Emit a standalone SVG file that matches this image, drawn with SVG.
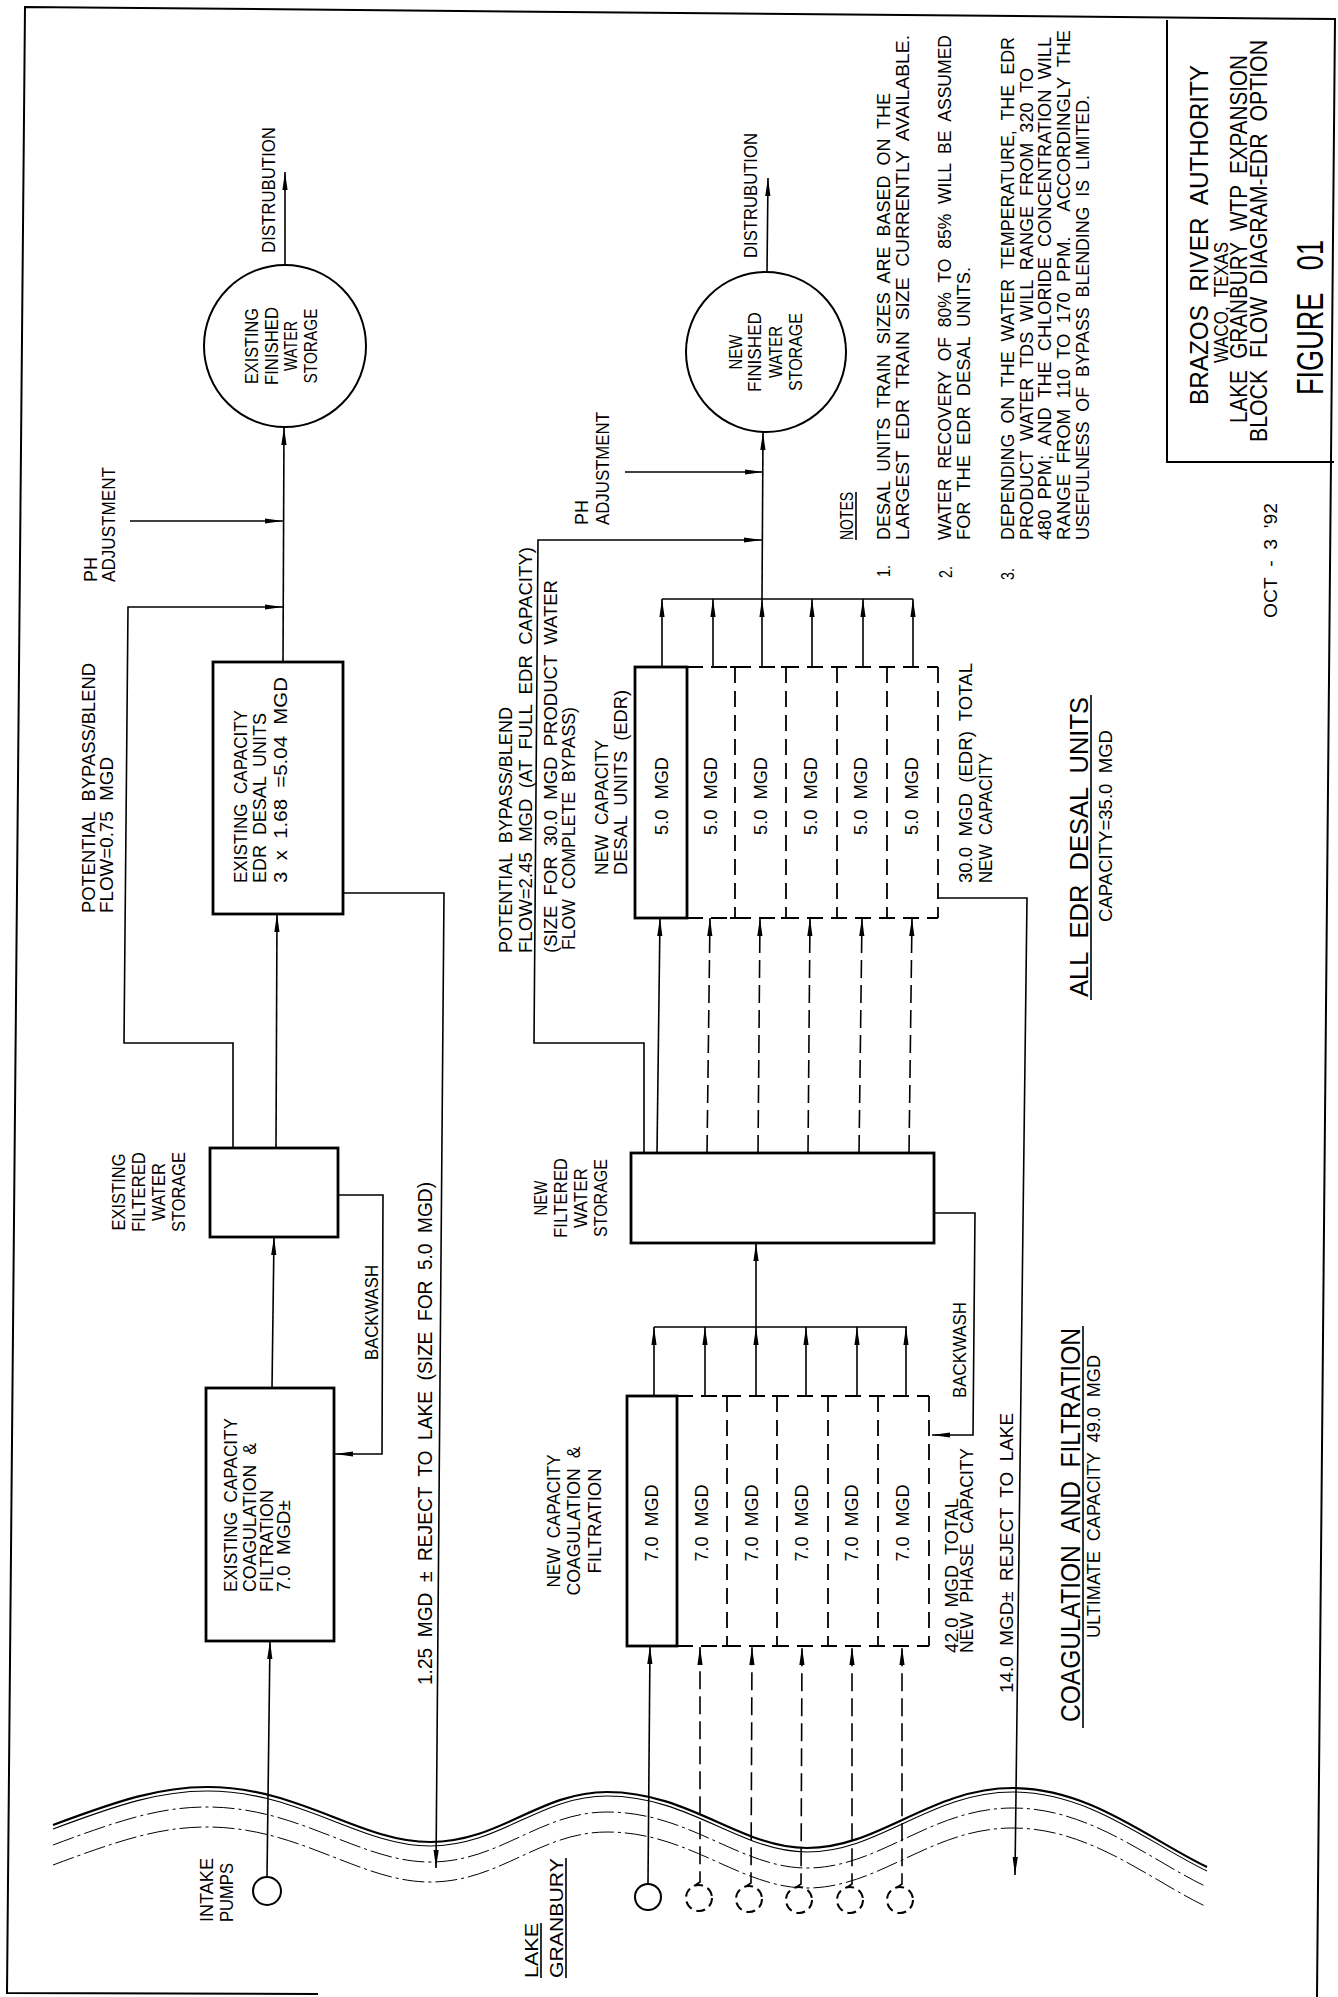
<svg xmlns="http://www.w3.org/2000/svg" xmlns:xlink="http://www.w3.org/1999/xlink" width="1338" height="1997" viewBox="0 0 1338 1997">
<defs>
<style>
.t{font-family:"Liberation Sans",Arial,sans-serif;font-size:19px;fill:#000;white-space:pre}
.m{text-anchor:middle}
.f18{font-size:18px}
.f20{font-size:20px}
.f21{font-size:21px}
.f23{font-size:23px}
.f25{font-size:25px}
.f26{font-size:26px}
.f28{font-size:28px}
.f36{font-size:36px}
.c{fill:none;stroke:#000;stroke-width:1.6}
.d{stroke-dasharray:18 7}
.a{marker-end:url(#ah)}
.box{fill:#fff;stroke:#000;stroke-width:2.8}
.cir{fill:#fff;stroke:#000;stroke-width:2}
.db{fill:none;stroke:#000;stroke-width:1.8;stroke-dasharray:16 8}
.tk{stroke:#000;stroke-width:1.8}
.ul{stroke:#000;stroke-width:1.6}
.brd{fill:none;stroke:#000;stroke-width:2}
</style>
<marker id="ah" viewBox="0 0 18 6" refX="18" refY="3" markerWidth="18" markerHeight="6" orient="auto" markerUnits="userSpaceOnUse"><path d="M0,0.4 L18,3 L0,5.6 Z" fill="#000"/></marker>
<path id="wave" d="M53,1825 C120,1800 160,1787 207,1787 C300,1787 360,1842 430,1842 C500,1842 540,1792 607,1792 C690,1792 740,1848 807,1848 C880,1848 930,1788 1013,1788 C1090,1788 1150,1840 1207,1867"/>
</defs>
<rect x="0" y="0" width="1338" height="1997" fill="#fff"/>

<g id="border">
<polyline class="brd" points="318,1994 7,1993 25,7 1335,19 1317,1997"/>
</g>

<g id="lake">
<use xlink:href="#wave" fill="none" stroke="#000" stroke-width="2.2"/>
<use xlink:href="#wave" transform="translate(0,4)" fill="none" stroke="#000" stroke-width="1.1"/>
<use xlink:href="#wave" transform="translate(0,20)" fill="none" stroke="#000" stroke-width="1" stroke-dasharray="22 4 3 4"/>
<use xlink:href="#wave" transform="translate(0,40)" fill="none" stroke="#000" stroke-width="1" stroke-dasharray="22 4 3 4"/>
<text class="t" transform="matrix(0,-1,1,0,538,1978)" textLength="55" lengthAdjust="spacingAndGlyphs">LAKE</text>
<text class="t" transform="matrix(0,-1,1,0,563,1978)" textLength="120" lengthAdjust="spacingAndGlyphs">GRANBURY</text>
<line class="ul" x1="541" y1="1978" x2="541" y2="1923"/>
<line class="ul" x1="566" y1="1978" x2="566" y2="1858"/>
</g>

<g id="connectors">
<line class="c a" x1="267" y1="1877" x2="270" y2="1641"/>
<line class="c a" x1="272" y1="1388" x2="274" y2="1237"/>
<line class="c a" x1="276" y1="1148" x2="277" y2="914"/>
<line class="c a" x1="283" y1="662" x2="284" y2="427"/>
<line class="c a" x1="285" y1="265" x2="285" y2="172"/>
<line class="c a" x1="130" y1="521" x2="283" y2="521"/>
<polyline class="c a" points="233,1148 233,1043 124,1043 128,607 283,607"/>
<polyline class="c a" points="338,1195 383,1195 382,1454 335,1454"/>
<polyline class="c a" points="343,893 444,893 436,1868"/>
<line class="c a" x1="648" y1="1884" x2="650" y2="1646"/>
<polyline class="c d a" points="694,1886 700,1882 700,1647"/>
<polyline class="c d a" points="745,1887 751,1883 752,1647"/>
<polyline class="c d a" points="795,1888 801,1884 802,1647"/>
<polyline class="c d a" points="846,1888 852,1884 852,1647"/>
<polyline class="c d a" points="896,1888 902,1884 902,1647"/>
<line class="c a" x1="654" y1="1396" x2="654" y2="1327"/>
<line class="c a" x1="705" y1="1396" x2="705" y2="1327"/>
<line class="c a" x1="756" y1="1396" x2="756" y2="1327"/>
<line class="c a" x1="806" y1="1396" x2="806" y2="1327"/>
<line class="c a" x1="857" y1="1396" x2="857" y2="1327"/>
<line class="c a" x1="906" y1="1396" x2="906" y2="1327"/>
<line class="c" x1="654" y1="1327" x2="907" y2="1327"/>
<line class="c a" x1="756" y1="1327" x2="756" y2="1243"/>
<line class="c a" x1="657" y1="1153" x2="660" y2="918"/>
<line class="c d a" x1="707" y1="1153" x2="710" y2="918"/>
<line class="c d a" x1="758" y1="1153" x2="760" y2="918"/>
<line class="c d a" x1="808" y1="1153" x2="810" y2="918"/>
<line class="c d a" x1="859" y1="1153" x2="862" y2="918"/>
<line class="c d a" x1="909" y1="1153" x2="912" y2="918"/>
<line class="c a" x1="662" y1="667" x2="662" y2="599"/>
<line class="c a" x1="713" y1="667" x2="713" y2="599"/>
<line class="c a" x1="762" y1="667" x2="762" y2="599"/>
<line class="c a" x1="812" y1="667" x2="812" y2="599"/>
<line class="c a" x1="863" y1="667" x2="863" y2="599"/>
<line class="c a" x1="913" y1="667" x2="913" y2="599"/>
<line class="c" x1="662" y1="599" x2="913" y2="599"/>
<line class="c a" x1="762" y1="599" x2="763" y2="432"/>
<line class="c a" x1="767" y1="272" x2="768" y2="178"/>
<line class="c a" x1="625" y1="472" x2="763" y2="472"/>
<polyline class="c a" points="644,1153 644,1043 534,1043 538,540 762,540"/>
<polyline class="c a" points="934,1213 975,1213 973,1435 932,1435"/>
<polyline class="c a" points="938,898 1027,898 1015,1875"/>
</g>

<g id="connector-labels">
<text class="t" transform="matrix(0,-1,1,0,275,253)" textLength="126" lengthAdjust="spacingAndGlyphs">DISTRUBUTION</text>
<text class="t" transform="matrix(0,-1,1,0,97,582)" textLength="25" lengthAdjust="spacingAndGlyphs">PH</text>
<text class="t" transform="matrix(0,-1,1,0,115,582)" textLength="115" lengthAdjust="spacingAndGlyphs">ADJUSTMENT</text>
<text class="t" transform="matrix(0,-1,1,0,95,913)" textLength="250" lengthAdjust="spacingAndGlyphs">POTENTIAL  BYPASS/BLEND</text>
<text class="t" transform="matrix(0,-1,1,0,113,913)" textLength="156" lengthAdjust="spacingAndGlyphs">FLOW=0.75  MGD</text>
<text class="t" transform="matrix(0,-1,1,0,378,1360)" textLength="95" lengthAdjust="spacingAndGlyphs">BACKWASH</text>
<text class="t f20" transform="matrix(0,-1,1,0,432,1685)" textLength="503" lengthAdjust="spacingAndGlyphs">1.25  MGD  ±  REJECT  TO  LAKE  (SIZE  FOR  5.0  MGD)</text>
<text class="t" transform="matrix(0,-1,1,0,757,258)" textLength="125" lengthAdjust="spacingAndGlyphs">DISTRUBUTION</text>
<text class="t" transform="matrix(0,-1,1,0,588,525)" textLength="25" lengthAdjust="spacingAndGlyphs">PH</text>
<text class="t" transform="matrix(0,-1,1,0,609,525)" textLength="113" lengthAdjust="spacingAndGlyphs">ADJUSTMENT</text>
<text class="t" transform="matrix(0,-1,1,0,512,953)" textLength="246" lengthAdjust="spacingAndGlyphs">POTENTIAL  BYPASS/BLEND</text>
<text class="t" transform="matrix(0,-1,1,0,532,953)" textLength="406" lengthAdjust="spacingAndGlyphs">FLOW=2.45  MGD  (AT  FULL  EDR  CAPACITY)</text>
<text class="t" transform="matrix(0,-1,1,0,557,953)" textLength="373" lengthAdjust="spacingAndGlyphs">(SIZE  FOR  30.0  MGD  PRODUCT  WATER</text>
<text class="t" transform="matrix(0,-1,1,0,575,950)" textLength="243" lengthAdjust="spacingAndGlyphs">FLOW  COMPLETE  BYPASS)</text>
<text class="t" transform="matrix(0,-1,1,0,966,1398)" textLength="96" lengthAdjust="spacingAndGlyphs">BACKWASH</text>
<text class="t" transform="matrix(0,-1,1,0,1013,1693)" textLength="280" lengthAdjust="spacingAndGlyphs">14.0  MGD±  REJECT  TO  LAKE</text>
</g>

<g id="node-existing-intake-pump">
<circle class="cir" cx="267" cy="1891" r="14"/>
<text class="t" transform="matrix(0,-1,1,0,213,1922)" textLength="64" lengthAdjust="spacingAndGlyphs">INTAKE</text>
<text class="t" transform="matrix(0,-1,1,0,233,1922)" textLength="59" lengthAdjust="spacingAndGlyphs">PUMPS</text>
</g>

<g id="node-existing-coagulation">
<rect class="box" x="206" y="1388" width="128" height="253"/>
<text class="t" transform="matrix(0,-1,1,0,237,1592)" textLength="174" lengthAdjust="spacingAndGlyphs">EXISTING  CAPACITY</text>
<text class="t" transform="matrix(0,-1,1,0,256,1592)" textLength="149" lengthAdjust="spacingAndGlyphs">COAGULATION  &amp;</text>
<text class="t" transform="matrix(0,-1,1,0,273,1592)" textLength="102" lengthAdjust="spacingAndGlyphs">FILTRATION</text>
<text class="t" transform="matrix(0,-1,1,0,290,1592)" textLength="92" lengthAdjust="spacingAndGlyphs">7.0  MGD±</text>
</g>

<g id="node-existing-filtered-storage">
<rect class="box" x="210" y="1148" width="128" height="89"/>
<text class="t m" transform="matrix(0,-1,1,0,125,1192)" textLength="77" lengthAdjust="spacingAndGlyphs">EXISTING</text>
<text class="t m" transform="matrix(0,-1,1,0,145,1192)" textLength="80" lengthAdjust="spacingAndGlyphs">FILTERED</text>
<text class="t m" transform="matrix(0,-1,1,0,165,1192)" textLength="58" lengthAdjust="spacingAndGlyphs">WATER</text>
<text class="t m" transform="matrix(0,-1,1,0,185,1192)" textLength="80" lengthAdjust="spacingAndGlyphs">STORAGE</text>
</g>

<g id="node-existing-edr">
<rect class="box" x="213" y="662" width="130" height="252"/>
<text class="t" transform="matrix(0,-1,1,0,247,883)" textLength="173" lengthAdjust="spacingAndGlyphs">EXISTING  CAPACITY</text>
<text class="t" transform="matrix(0,-1,1,0,266,883)" textLength="170" lengthAdjust="spacingAndGlyphs">EDR  DESAL  UNITS</text>
<text class="t" transform="matrix(0,-1,1,0,287,883)" textLength="206" lengthAdjust="spacingAndGlyphs">3  x  1.68  =5.04  MGD</text>
</g>

<g id="node-existing-finished-storage">
<circle class="cir" cx="285" cy="346" r="81"/>
<text class="t m" transform="matrix(0,-1,1,0,258,346)" textLength="76" lengthAdjust="spacingAndGlyphs">EXISTING</text>
<text class="t m" transform="matrix(0,-1,1,0,277.5,346)" textLength="78" lengthAdjust="spacingAndGlyphs">FINISHED</text>
<text class="t m" transform="matrix(0,-1,1,0,297,346)" textLength="50" lengthAdjust="spacingAndGlyphs">WATER</text>
<text class="t m" transform="matrix(0,-1,1,0,316.5,346)" textLength="75" lengthAdjust="spacingAndGlyphs">STORAGE</text>
</g>

<g id="node-new-intake-pumps">
<circle class="cir" cx="648" cy="1897" r="13"/>
<circle class="cir" cx="699" cy="1898" r="13" stroke-dasharray="9 5"/>
<circle class="cir" cx="749" cy="1899" r="13" stroke-dasharray="9 5"/>
<circle class="cir" cx="799" cy="1900" r="13" stroke-dasharray="9 5"/>
<circle class="cir" cx="850" cy="1900" r="13" stroke-dasharray="9 5"/>
<circle class="cir" cx="900" cy="1900" r="13" stroke-dasharray="9 5"/>
</g>

<g id="node-new-coagulation">
<rect class="box" x="627" y="1396" width="50" height="250"/>
<line class="db" x1="677" y1="1396" x2="929" y2="1396"/>
<line class="db" x1="677" y1="1646" x2="929" y2="1646"/>
<line class="db" x1="929" y1="1396" x2="929" y2="1646"/>
<line class="db" x1="727" y1="1396" x2="727" y2="1646"/>
<line class="db" x1="777" y1="1396" x2="777" y2="1646"/>
<line class="db" x1="828" y1="1396" x2="828" y2="1646"/>
<line class="db" x1="878" y1="1396" x2="878" y2="1646"/>
<path class="tk" d="M722,1396h10M772,1396h10M823,1396h10M873,1396h10M722,1646h10M772,1646h10M823,1646h10M873,1646h10"/>
<text class="t m" transform="matrix(0,-1,1,0,658,1523)" textLength="77" lengthAdjust="spacingAndGlyphs">7.0  MGD</text>
<text class="t m" transform="matrix(0,-1,1,0,708,1523)" textLength="77" lengthAdjust="spacingAndGlyphs">7.0  MGD</text>
<text class="t m" transform="matrix(0,-1,1,0,758,1523)" textLength="77" lengthAdjust="spacingAndGlyphs">7.0  MGD</text>
<text class="t m" transform="matrix(0,-1,1,0,808,1523)" textLength="77" lengthAdjust="spacingAndGlyphs">7.0  MGD</text>
<text class="t m" transform="matrix(0,-1,1,0,858,1523)" textLength="77" lengthAdjust="spacingAndGlyphs">7.0  MGD</text>
<text class="t m" transform="matrix(0,-1,1,0,909,1523)" textLength="77" lengthAdjust="spacingAndGlyphs">7.0  MGD</text>
<text class="t m" transform="matrix(0,-1,1,0,560,1521)" textLength="133" lengthAdjust="spacingAndGlyphs">NEW  CAPACITY</text>
<text class="t m" transform="matrix(0,-1,1,0,580,1521)" textLength="149" lengthAdjust="spacingAndGlyphs">COAGULATION  &amp;</text>
<text class="t m" transform="matrix(0,-1,1,0,601,1521)" textLength="105" lengthAdjust="spacingAndGlyphs">FILTRATION</text>
<text class="t f18" transform="matrix(0,-1,1,0,958,1653)" textLength="155" lengthAdjust="spacingAndGlyphs">42.0  MGD  TOTAL</text>
<text class="t f18" transform="matrix(0,-1,1,0,973,1653)" textLength="205" lengthAdjust="spacingAndGlyphs">NEW  PHASE  CAPACITY</text>
</g>

<g id="node-new-filtered-storage">
<rect class="box" x="631" y="1153" width="303" height="90"/>
<text class="t m" transform="matrix(0,-1,1,0,547,1198)" textLength="35" lengthAdjust="spacingAndGlyphs">NEW</text>
<text class="t m" transform="matrix(0,-1,1,0,567,1198)" textLength="80" lengthAdjust="spacingAndGlyphs">FILTERED</text>
<text class="t m" transform="matrix(0,-1,1,0,587,1198)" textLength="60" lengthAdjust="spacingAndGlyphs">WATER</text>
<text class="t m" transform="matrix(0,-1,1,0,607,1198)" textLength="78" lengthAdjust="spacingAndGlyphs">STORAGE</text>
</g>

<g id="node-new-edr">
<rect class="box" x="635" y="667" width="52" height="251"/>
<line class="db" x1="687" y1="667" x2="938" y2="667"/>
<line class="db" x1="687" y1="918" x2="938" y2="918"/>
<line class="db" x1="938" y1="667" x2="938" y2="918"/>
<line class="db" x1="735" y1="667" x2="735" y2="918"/>
<line class="db" x1="786" y1="667" x2="786" y2="918"/>
<line class="db" x1="837" y1="667" x2="837" y2="918"/>
<line class="db" x1="887" y1="667" x2="887" y2="918"/>
<path class="tk" d="M730,667h10M781,667h10M832,667h10M882,667h10M730,918h10M781,918h10M832,918h10M882,918h10"/>
<text class="t m" transform="matrix(0,-1,1,0,668,796)" textLength="78" lengthAdjust="spacingAndGlyphs">5.0  MGD</text>
<text class="t m" transform="matrix(0,-1,1,0,717,796)" textLength="78" lengthAdjust="spacingAndGlyphs">5.0  MGD</text>
<text class="t m" transform="matrix(0,-1,1,0,767,796)" textLength="78" lengthAdjust="spacingAndGlyphs">5.0  MGD</text>
<text class="t m" transform="matrix(0,-1,1,0,817,796)" textLength="78" lengthAdjust="spacingAndGlyphs">5.0  MGD</text>
<text class="t m" transform="matrix(0,-1,1,0,867,796)" textLength="78" lengthAdjust="spacingAndGlyphs">5.0  MGD</text>
<text class="t m" transform="matrix(0,-1,1,0,918,796)" textLength="78" lengthAdjust="spacingAndGlyphs">5.0  MGD</text>
<text class="t" transform="matrix(0,-1,1,0,608,875)" textLength="135" lengthAdjust="spacingAndGlyphs">NEW  CAPACITY</text>
<text class="t" transform="matrix(0,-1,1,0,627,875)" textLength="185" lengthAdjust="spacingAndGlyphs">DESAL  UNITS  (EDR)</text>
<text class="t" transform="matrix(0,-1,1,0,972,883)" textLength="220" lengthAdjust="spacingAndGlyphs">30.0  MGD  (EDR)  TOTAL</text>
<text class="t" transform="matrix(0,-1,1,0,992,883)" textLength="130" lengthAdjust="spacingAndGlyphs">NEW  CAPACITY</text>
</g>

<g id="node-new-finished-storage">
<circle class="cir" cx="766" cy="352" r="80"/>
<text class="t m" transform="matrix(0,-1,1,0,741.5,352)" textLength="35" lengthAdjust="spacingAndGlyphs">NEW</text>
<text class="t m" transform="matrix(0,-1,1,0,761,352)" textLength="80" lengthAdjust="spacingAndGlyphs">FINISHED</text>
<text class="t m" transform="matrix(0,-1,1,0,781.5,352)" textLength="52" lengthAdjust="spacingAndGlyphs">WATER</text>
<text class="t m" transform="matrix(0,-1,1,0,801.5,352)" textLength="78" lengthAdjust="spacingAndGlyphs">STORAGE</text>
</g>

<g id="summary-labels">
<text class="t f28" transform="matrix(0,-1,1,0,1080,1722)" textLength="394" lengthAdjust="spacingAndGlyphs">COAGULATION  AND  FILTRATION</text>
<line class="ul" x1="1083" y1="1728" x2="1083" y2="1326"/>
<text class="t f18" transform="matrix(0,-1,1,0,1100,1638)" textLength="283" lengthAdjust="spacingAndGlyphs">ULTIMATE  CAPACITY  49.0  MGD</text>
<text class="t f26" transform="matrix(0,-1,1,0,1088,997)" textLength="300" lengthAdjust="spacingAndGlyphs">ALL  EDR  DESAL  UNITS</text>
<line class="ul" x1="1091" y1="1000" x2="1091" y2="695"/>
<text class="t" transform="matrix(0,-1,1,0,1112,922)" textLength="192" lengthAdjust="spacingAndGlyphs">CAPACITY=35.0  MGD</text>
</g>

<g id="notes">
<text class="t" transform="matrix(0,-1,1,0,853,540)" textLength="48" lengthAdjust="spacingAndGlyphs">NOTES</text>
<line class="ul" x1="856" y1="540" x2="856" y2="492"/>
<text class="t" transform="matrix(0,-1,1,0,890,577)" textLength="12" lengthAdjust="spacingAndGlyphs">1.</text>
<text class="t" transform="matrix(0,-1,1,0,890,540)" textLength="447" lengthAdjust="spacingAndGlyphs">DESAL  UNITS  TRAIN  SIZES  ARE  BASED  ON  THE</text>
<text class="t" transform="matrix(0,-1,1,0,909,540)" textLength="505" lengthAdjust="spacingAndGlyphs">LARGEST  EDR  TRAIN  SIZE  CURRENTLY  AVAILABLE.</text>
<text class="t" transform="matrix(0,-1,1,0,952,578)" textLength="12" lengthAdjust="spacingAndGlyphs">2.</text>
<text class="t" transform="matrix(0,-1,1,0,951,540)" textLength="505" lengthAdjust="spacingAndGlyphs">WATER  RECOVERY  OF  80%  TO  85%  WILL  BE  ASSUMED</text>
<text class="t" transform="matrix(0,-1,1,0,970,540)" textLength="273" lengthAdjust="spacingAndGlyphs">FOR  THE  EDR  DESAL  UNITS.</text>
<text class="t" transform="matrix(0,-1,1,0,1014,580)" textLength="12" lengthAdjust="spacingAndGlyphs">3.</text>
<text class="t" transform="matrix(0,-1,1,0,1014,540)" textLength="503" lengthAdjust="spacingAndGlyphs">DEPENDING  ON  THE  WATER  TEMPERATURE,  THE  EDR</text>
<text class="t" transform="matrix(0,-1,1,0,1033,540)" textLength="472" lengthAdjust="spacingAndGlyphs">PRODUCT  WATER  TDS  WILL  RANGE  FROM  320  TO</text>
<text class="t" transform="matrix(0,-1,1,0,1051,540)" textLength="503" lengthAdjust="spacingAndGlyphs">480  PPM;  AND  THE  CHLORIDE  CONCENTRATION  WILL</text>
<text class="t" transform="matrix(0,-1,1,0,1070,540)" textLength="510" lengthAdjust="spacingAndGlyphs">RANGE  FROM  110  TO  170  PPM.     ACCORDINGLY  THE</text>
<text class="t" transform="matrix(0,-1,1,0,1089,540)" textLength="445" lengthAdjust="spacingAndGlyphs">USEFULNESS  OF  BYPASS  BLENDING  IS  LIMITED.</text>
<text class="t" transform="matrix(0,-1,1,0,1277,618)" textLength="115" lengthAdjust="spacingAndGlyphs">OCT  -  3  '92</text>
</g>

<g id="title-block">
<polyline class="brd" points="1167,20 1167,462 1334,462"/>
<text class="t f25" transform="matrix(0,-1,1,0,1208,405)" textLength="340" lengthAdjust="spacingAndGlyphs">BRAZOS  RIVER  AUTHORITY</text>
<text class="t f21" transform="matrix(0,-1,1,0,1228,363)" textLength="121" lengthAdjust="spacingAndGlyphs">WACO,  TEXAS</text>
<text class="t f23" transform="matrix(0,-1,1,0,1247,423)" textLength="368" lengthAdjust="spacingAndGlyphs">LAKE  GRANBURY  WTP  EXPANSION</text>
<text class="t f23" transform="matrix(0,-1,1,0,1267,442)" textLength="402" lengthAdjust="spacingAndGlyphs">BLOCK  FLOW  DIAGRAM-EDR  OPTION</text>
<text class="t f36" transform="matrix(0,-1,1,0,1323,395)" textLength="155" lengthAdjust="spacingAndGlyphs">FIGURE   01</text>
</g>
</svg>
